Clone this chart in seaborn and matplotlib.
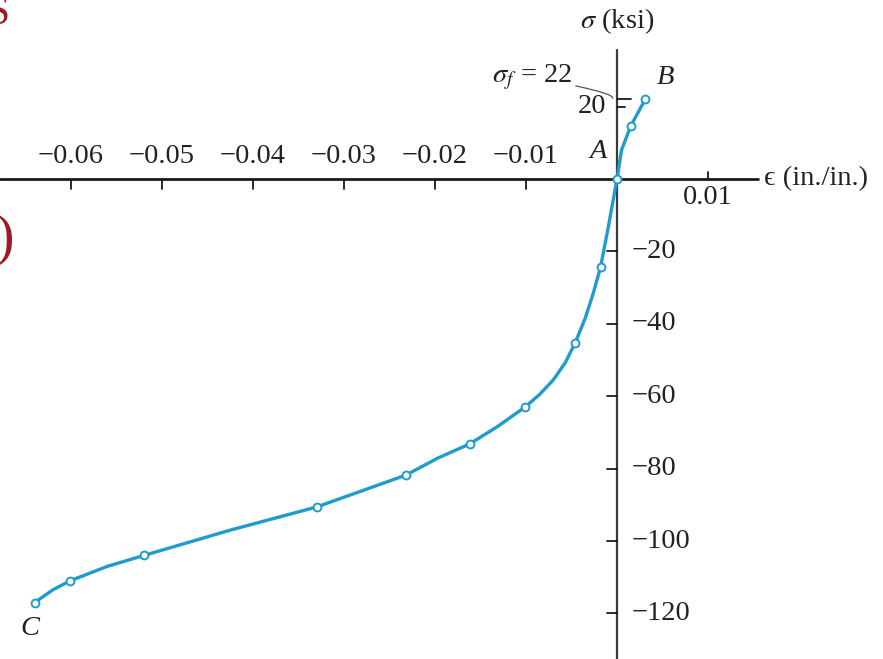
import matplotlib
matplotlib.use("Agg")
import matplotlib.pyplot as plt
import seaborn as sns
import pandas as pd

# ---- data ----
curve_eps = [-0.0640, -0.0620, -0.0601, -0.0560, -0.0520, -0.0425, -0.0330,
             -0.0232, -0.0197, -0.0162, -0.0132, -0.0101, -0.0085, -0.0070,
             -0.0057, -0.0046, -0.0035, -0.0026, -0.0018, -0.0009, 0.0,
             0.0005, 0.0015, 0.0031]
curve_sigma = [-117.0, -113.5, -111.0, -107.0, -104.0, -97.0, -90.6,
               -81.8, -77.1, -73.2, -68.5, -63.0, -59.5, -55.5,
               -50.8, -45.3, -38.5, -31.5, -24.3, -12.5, 0.0,
               8.0, 14.6, 22.0]
marker_eps = [-0.0640, -0.0601, -0.0520, -0.0330, -0.0232, -0.0162,
              -0.0101, -0.0046, -0.0018, 0.0, 0.0015, 0.0031]
marker_sigma = [-117.0, -111.0, -104.0, -90.6, -81.8, -73.2,
                -63.0, -45.3, -24.3, 0.0, 14.6, 22.0]
xtick_vals = [-0.06, -0.05, -0.04, -0.03, -0.02, -0.01, 0.01]
xtick_labels = ["\u22120.06", "\u22120.05", "\u22120.04", "\u22120.03",
                "\u22120.02", "\u22120.01", "0.01"]
ytick_vals = [20, -20, -40, -60, -80, -100, -120]
ytick_labels = ["20", "\u221220", "\u221240", "\u221260", "\u221280",
                "\u2212100", "\u2212120"]
sigma_f = 22
point_labels = ["A", "B", "C"]

sns.set_theme(style="white")
plt.rcParams["font.family"] = ["Liberation Serif", "DejaVu Serif"]
plt.rcParams["mathtext.fontset"] = "stix"

fig = plt.figure(figsize=(8.83, 6.59), dpi=100)
ax = fig.add_axes([0, 0, 1, 1])
ax.set_xlim(-617 / 9100, 266 / 9100)
ax.set_ylim(-480 / 3.62, 179 / 3.62)

line_color = "#1f9bcc"
axis_color = "#1a1a1a"
txt_color = "#222222"

# axes lines
ax.axhline(0, xmin=0, xmax=758 / 883, color=axis_color, lw=2.0, zorder=1)
ax.axvline(0, ymin=0, ymax=(659 - 50) / 659, color="#3a3a3a", lw=1.6, zorder=1)

# tick lengths in data units (~10 px)
tx = 10 / 3.62
ty = 10 / 9100
fs = 20.5
for v, lab in zip(xtick_vals, xtick_labels):
    if v < 0:
        ax.plot([v, v], [0, -tx], color=axis_color, lw=1.3, zorder=1)
        ax.text(v, 6.3, lab, ha="center", va="center", fontsize=fs, color=txt_color)
    else:
        ax.plot([v, v], [0, tx * 0.7], color=axis_color, lw=1.3, zorder=1)
        ax.text(v, -5.0, lab, ha="center", va="center", fontsize=fs, color=txt_color)
for v, lab in zip(ytick_vals, ytick_labels):
    if v < 0:
        ax.plot([0, -ty], [v, v], color=axis_color, lw=1.3, zorder=1)
        ax.text(0.0016, v, lab, ha="left", va="center", fontsize=fs, color=txt_color)
    else:
        ax.plot([0, ty * 0.8], [v, v], color=axis_color, lw=1.3, zorder=1)
        ax.text(-0.0012, v, lab, ha="right", va="center", fontsize=fs, color=txt_color)

# sigma_f line and label
ax.plot([0, 0.0015], [sigma_f, sigma_f], color=axis_color, lw=1.3, zorder=1)
ax.annotate(r"$\sigma_f$ = %d" % sigma_f, xy=(-0.0005, sigma_f + 0.3),
            xytext=(-0.0137, 28.0), ha="left", va="center", fontsize=fs,
            color=txt_color,
            arrowprops=dict(arrowstyle="-", color="#555555", lw=0.9,
                            connectionstyle="angle3,angleA=-10,angleB=60",
                            shrinkA=0, shrinkB=0))

# axis titles
ax.text(0.0, 43.5, r"$\sigma$ (ksi)", ha="center", va="center", fontsize=fs, color=txt_color)
ax.text(0.0162, 0.0, "\u03f5 (in./in.)", ha="left", va="center", fontsize=fs,
        color=txt_color, family=["DejaVu Serif"] if False else None)

# curve
df_curve = pd.DataFrame({"eps": curve_eps, "sigma": curve_sigma})
df_mark = pd.DataFrame({"eps": marker_eps, "sigma": marker_sigma})
sns.lineplot(data=df_curve, x="eps", y="sigma", sort=False, estimator=None,
             color=line_color, lw=2.4, ax=ax, zorder=3)
sns.scatterplot(data=df_mark, x="eps", y="sigma", marker="o", s=32,
                facecolor="white", edgecolor=line_color, linewidth=1.4,
                ax=ax, zorder=4)
ax.axis("off")

# point labels
ax.text(-0.0021, 7.5, point_labels[0], ha="center", va="center", fontsize=fs,
        style="italic", color=txt_color)
ax.text(0.0053, 28.0, point_labels[1], ha="center", va="center", fontsize=fs,
        style="italic", color=txt_color)
ax.text(-0.0645, -124.3, point_labels[2], ha="center", va="center", fontsize=fs,
        style="italic", color=txt_color)

# partially cropped red slide artefacts at left edge
fig.text(9 / 883, 1 - 14 / 659, "S", ha="right", va="center", fontsize=30,
         color="#9b1b2a")
fig.text(14 / 883, 1 - 240 / 659, ")", ha="right", va="center", fontsize=40,
         color="#9b1b2a")

fig.savefig("out.png", dpi=100)
